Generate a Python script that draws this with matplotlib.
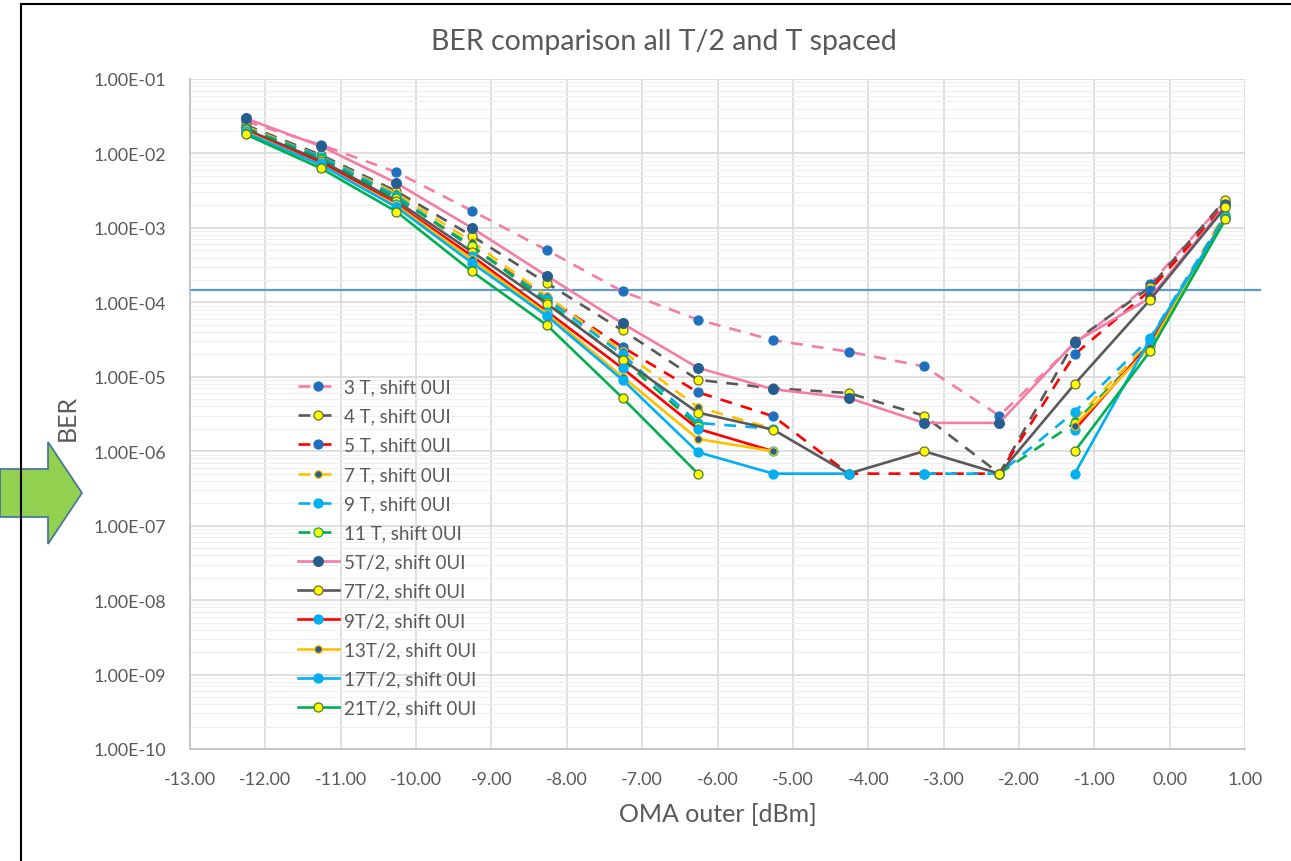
import numpy as np
import matplotlib.pyplot as plt
from matplotlib.ticker import FixedLocator, FuncFormatter, LogLocator, NullFormatter
from matplotlib.patches import Polygon
from matplotlib.lines import Line2D

plt.rcParams['font.family'] = ['Lato', 'DejaVu Sans']

nan = np.nan

# OMA outer [dBm]
oma = [-12.26, -11.26, -10.26, -9.26, -8.26, -7.26, -6.26,
       -5.26, -4.26, -3.26, -2.26, -1.26, -0.26, 0.74]

# BER per setting (blank cells = nan)
ber_3t = [2.7e-2, 1.3e-2, 5.6e-3, 1.7e-3, 5.0e-4, 1.4e-4, 5.85e-5,
          3.1e-5, 2.17e-5, 1.38e-5, 3.0e-6, 2.8e-5, 1.76e-4, 2.3e-3]
ber_4t = [2.4e-2, 9.5e-3, 3.1e-3, 7.8e-4, 1.8e-4, 4.2e-5, 9.1e-6,
          7.0e-6, 6.05e-6, 3.0e-6, 5.0e-7, 3.0e-5, 1.6e-4, 2.4e-3]
ber_5t = [2.2e-2, 8.5e-3, 2.6e-3, 5.5e-4, 1.15e-4, 2.5e-5, 6.2e-6,
          2.95e-6, 5.0e-7, 5.0e-7, 5.0e-7, 2.0e-5, 1.45e-4, 2.1e-3]
ber_7t = [2.3e-2, 9.0e-3, 2.9e-3, 6.5e-4, 1.2e-4, 2.2e-5, 3.9e-6,
          2.0e-6, nan, nan, nan, 2.6e-6, 3.0e-5, 1.6e-3]
ber_9t = [2.2e-2, 9.0e-3, 2.7e-3, 5.5e-4, 1.1e-4, 2.0e-5, 2.4e-6,
          2.0e-6, nan, 5.0e-7, 5.0e-7, 3.4e-6, 3.3e-5, 1.5e-3]
ber_11t = [2.2e-2, 8.5e-3, 2.5e-3, 5.8e-4, 1.0e-4, 1.7e-5, 2.2e-6,
           nan, nan, nan, 5.0e-7, 2.4e-6, 2.6e-5, 1.4e-3]
ber_5t2 = [2.95e-2, 1.25e-2, 4.0e-3, 1.0e-3, 2.25e-4, 5.2e-5, 1.32e-5,
           6.8e-6, 5.2e-6, 2.4e-6, 2.4e-6, 2.9e-5, 1.15e-4, 2.0e-3]
ber_7t2 = [2.1e-2, 8.0e-3, 2.3e-3, 4.8e-4, 9.5e-5, 1.7e-5, 3.3e-6,
           1.95e-6, 5.0e-7, 1.0e-6, 5.0e-7, 8.0e-6, 1.08e-4, 1.9e-3]
ber_9t2 = [2.0e-2, 7.5e-3, 2.1e-3, 4.2e-4, 7.5e-5, 1.3e-5, 2.0e-6,
           1.0e-6, nan, nan, nan, 1.95e-6, 2.8e-5, 1.4e-3]
ber_13t2 = [1.95e-2, 7.0e-3, 2.0e-3, 3.8e-4, 7.0e-5, 1.0e-5, 1.46e-6,
            1.0e-6, nan, nan, nan, 2.2e-6, 2.5e-5, 1.4e-3]
ber_17t2 = [1.9e-2, 7.0e-3, 1.9e-3, 3.4e-4, 6.5e-5, 9.1e-6, 9.7e-7,
            5.0e-7, 5.0e-7, nan, nan, 5.0e-7, 3.2e-5, 1.35e-3]
ber_21t2 = [1.8e-2, 6.3e-3, 1.65e-3, 2.6e-4, 4.9e-5, 5.2e-6, 5.0e-7,
            nan, nan, nan, nan, 1.0e-6, 2.2e-5, 1.3e-3]

labels = ['3 T, shift 0UI', '4 T, shift 0UI', '5 T, shift 0UI', '7 T, shift 0UI',
          '9 T, shift 0UI', '11 T, shift 0UI', '5T/2, shift 0UI', '7T/2, shift 0UI',
          '9T/2, shift 0UI', '13T/2, shift 0UI', '17T/2, shift 0UI', '21T/2, shift 0UI']
series = [ber_3t, ber_4t, ber_5t, ber_7t, ber_9t, ber_11t,
          ber_5t2, ber_7t2, ber_9t2, ber_13t2, ber_17t2, ber_21t2]

ber_limit = 1.46e-4

PINK, GREY, RED, GOLD, LBLUE, GREEN = '#F57CA6', '#595959', '#FF0000', '#FFC000', '#00B0F0', '#00B050'
BLUE, DBLUE, YEL = '#1F6FBF', '#255E91', '#FFFF00'

line_colors = [PINK, GREY, RED, GOLD, LBLUE, GREEN, PINK, GREY, RED, GOLD, LBLUE, GREEN]
marker_face = [BLUE, YEL, BLUE, DBLUE, LBLUE, YEL, DBLUE, YEL, LBLUE, DBLUE, LBLUE, YEL]
marker_edge = [BLUE, '#6E6E30', BLUE, GOLD, LBLUE, GREEN, DBLUE, '#6E6E30', LBLUE, GOLD, LBLUE, '#4E7A2E']
marker_size = [6.5, 6.5, 6.5, 5.5, 6.5, 6.5, 7, 6.5, 6.5, 5.5, 6.5, 6.5]
dashed = [True] * 6 + [False] * 6

W, H = 1291, 862
fig = plt.figure(figsize=(W / 100, H / 100), dpi=100)
ax = fig.add_axes([190 / W, 1 - 750 / H, (1245 - 190) / W, (750 - 80) / H])

for ys, lab, lc, mf, me, ms, d in zip(series, labels, line_colors, marker_face,
                                       marker_edge, marker_size, dashed):
    ln, = ax.plot(oma, ys, color=lc, lw=1.9, marker='o', ms=ms, mfc=mf, mec=me,
                  mew=0.9, label=lab, zorder=3)
    if d:
        ln.set_dashes((4.5, 3.5))

ax.axhline(ber_limit, xmin=0, xmax=1.014, color='#5B9BD5', lw=1.6, clip_on=False, zorder=2)

ax.set_yscale('log')
ax.set_xlim(-13, 1)
ax.set_ylim(1e-10, 1e-1)
ax.xaxis.set_major_locator(FixedLocator(np.arange(-13, 1.01, 1)))
ax.xaxis.set_major_formatter(FuncFormatter(lambda v, p: f'{v:.2f}'))
ax.yaxis.set_major_locator(LogLocator(base=10, numticks=20))
ax.yaxis.set_minor_locator(LogLocator(base=10, subs=np.arange(2, 10), numticks=20))
ax.yaxis.set_minor_formatter(NullFormatter())
ax.yaxis.set_major_formatter(FuncFormatter(lambda v, p: f'{v:.2E}'))

ax.grid(True, which='major', color='#D9D9D9', lw=1.2, zorder=0)
ax.grid(True, which='minor', axis='y', color='#EFEFEF', lw=0.8, zorder=0)
ax.set_axisbelow(True)
for s in ['top', 'right']:
    ax.spines[s].set_visible(False)
ax.spines['left'].set_color('#BFBFBF')
ax.spines['bottom'].set_color('#BFBFBF')
ax.spines['left'].set_linewidth(1.2)
ax.spines['bottom'].set_linewidth(1.2)
ax.tick_params(which='both', length=0, labelsize=12.8, labelcolor='#595959')
ax.tick_params(axis='y', pad=17)
ax.tick_params(axis='x', pad=16)

fig.text(664 / W, 1 - 42 / H, 'BER comparison all T/2 and T spaced', ha='center', va='center',
         fontsize=20.5, color='#595959')
fig.text(718 / W, 1 - 815 / H, 'OMA outer [dBm]', ha='center', va='center',
         fontsize=18, color='#595959')
fig.text(67 / W, 1 - 418 / H, 'BER', ha='center', va='center', rotation=90,
         fontsize=18, color='#595959')

leg = ax.legend(loc='upper left', bbox_to_anchor=(290 / W, 1 - 372 / H),
                bbox_transform=fig.transFigure, frameon=False, fontsize=13.5,
                labelspacing=0.65, handlelength=2.2, handletextpad=0.3, borderaxespad=0)
for t in leg.get_texts():
    t.set_color('#595959')

# outer frame of the slide
fig.add_artist(Line2D([21 / W, 21 / W], [0, 1 - 5 / H], color='black', lw=1.5))
fig.add_artist(Line2D([21 / W, 1], [1 - 5 / H, 1 - 5 / H], color='black', lw=1.5))

# green arrow on the left
arrow_px = [(0, 470), (48, 470), (48, 443), (82, 494), (48, 545), (48, 518), (0, 518)]
fig.add_artist(Polygon([(x / W, 1 - y / H) for x, y in arrow_px], closed=True,
                       facecolor='#92D050', edgecolor='#41719C', lw=1.2))

fig.savefig('out.png', dpi=100)
